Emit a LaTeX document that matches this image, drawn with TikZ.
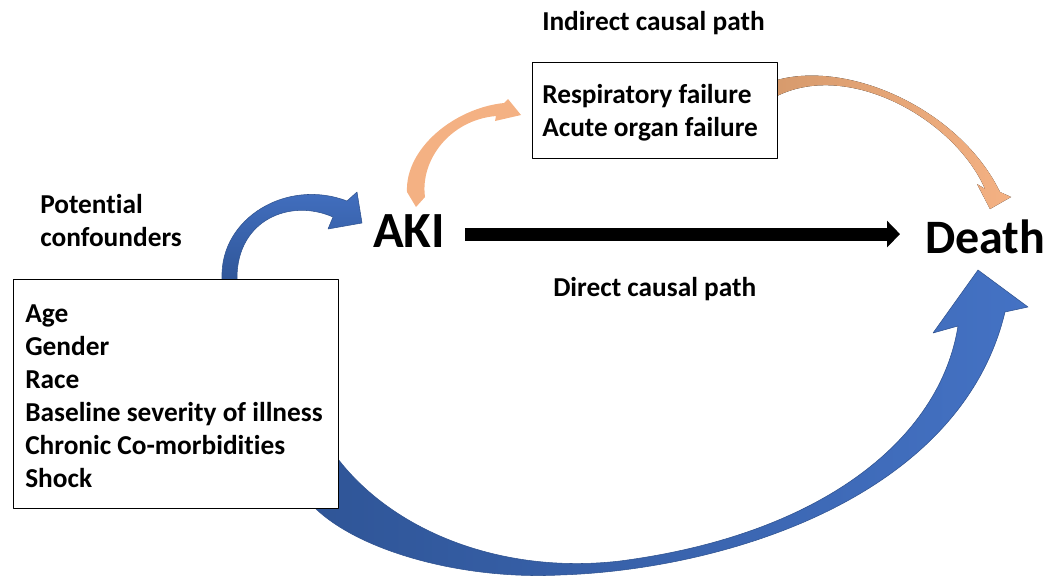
\documentclass[tikz,border=0pt]{standalone}
\usepackage{fontspec}
\setmainfont{Carlito}[Ligatures=NoCommon]
\usepackage{tikz}
\usetikzlibrary{arrows.meta,calc,positioning}
\definecolor{accblue}{HTML}{4472C4}
\definecolor{deepblue}{HTML}{2F5597}
\definecolor{edgeblue}{HTML}{2F528F}
\definecolor{peach}{HTML}{F4B183}
\definecolor{darkpeach}{HTML}{D69A6C}

\begin{document}
\begin{tikzpicture}[x=0.75pt,y=-0.75pt,>=Stealth,line join=round,
  lbl/.style={inner sep=0pt,anchor=base west,font=\fontsize{20.5}{24}\selectfont\bfseries},
  big/.style={inner sep=0pt,anchor=base west,font=\fontsize{36}{43}\selectfont\bfseries},
  box/.style={draw,fill=white,inner sep=0pt,anchor=north west},
  causal/.style={line width=9.75pt,-{Triangle[length=9.75pt,width=19.5pt]}}]
\useasboundingbox (0,0) rectangle (1064,578);
% --- curved block arrows (boxes are drawn over their tails)
% confounders -> AKI
\draw[edgeblue,line width=0.4pt,top color=accblue,bottom color=deepblue] (222,285) -- (222,278) .. controls (220,218) and (287,178) .. (347,201) -- (357,192) -- (362,223) -- (328,229) -- (333,217) .. controls (290,198) and (237,220) .. (237,278) -- (237,285) -- cycle;
% confounders -> Death
\draw[edgeblue,line width=0.4pt,left color=deepblue,middle color=accblue!85!deepblue,right color=accblue] (312,505) .. controls (355,550) and (460,580) .. (560,575) .. controls (720,570) and (960,500) .. (1005,312) -- (1028,307) -- (978,270) -- (933,333) -- (958,326) .. controls (940,440) and (820,535) .. (620,561) .. controls (500,575) and (390,530) .. (335,455) -- cycle;
% AKI -> mediators
\fill[peach] (407,192) .. controls (405,148) and (455,108) .. (504,103) -- (508,99) -- (521,115) -- (495,121) -- (496,116) .. controls (450,120) and (420,160) .. (425,197) -- (416,207) -- cycle;
% mediators -> Death
\fill[left color=darkpeach,middle color=peach,right color=peach] (770,82) -- (777,80) .. controls (850,60) and (960,110) .. (1000,192) -- (1011,197) -- (990,209) -- (977,184) -- (985,189) .. controls (955,120) and (850,60) .. (777,96) -- (770,97) -- cycle;
% --- indirect path
\node[lbl] (indir) at (542,30) {Indirect causal path};
\node[box,minimum width=183.75pt,minimum height=72pt,line width=0.6pt] (mid) at (532,62) {};
\node[lbl] (resp) at (542,103) {Respiratory failure};
\node[lbl] (organ) at (542,136) {Acute organ failure};
% --- confounders
\node[lbl] (pot) at (40,213) {Potential};
\node[lbl] (conf) at (40,246) {confounders};
\node[box,minimum width=243.75pt,minimum height=171.75pt,line width=1.1pt] (cbox) at (13,279) {};
\foreach \t [count=\i] in {Age,Gender,Race,Baseline severity of illness,Chronic Co-morbidities,Shock}
  \node[lbl] (c\i) at (25,{289+33*\i}) {\t};
% --- direct path
\node[big,font=\fontsize{38}{45}\selectfont\bfseries] (aki) at (373,247) {AKI};
\node[big] (death) at (925,253) {Death};
\draw[causal] ($(aki.east)+(20,3.5)$) -- ($(aki.east -| death.west)+(-25,3.5)$);
\node[lbl] (direct) at (553,296) {Direct causal path};
\end{tikzpicture}
\end{document}
